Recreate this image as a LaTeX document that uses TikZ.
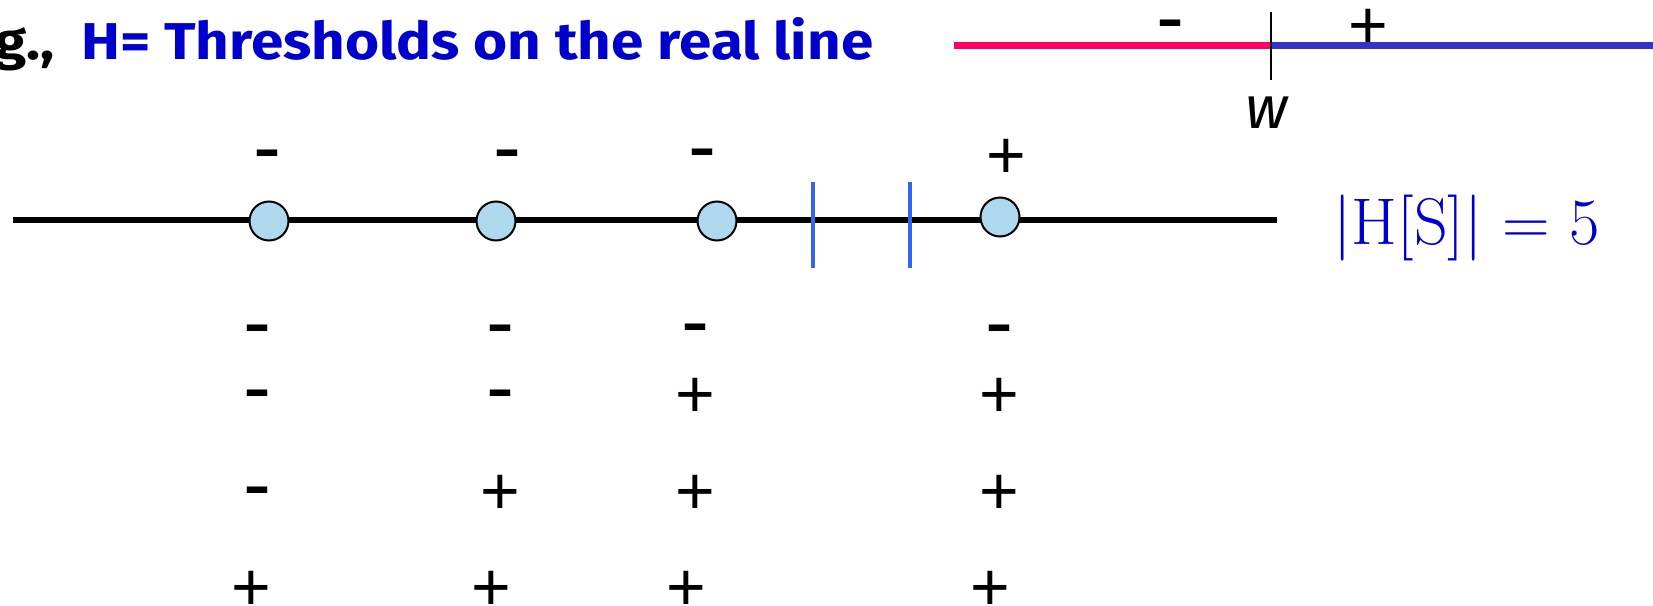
\documentclass[tikz,border=0pt]{standalone}
\usepackage{fontspec}
\usepackage{graphicx}
\newfontfamily\ttlfont{Fira Sans}
\newfontfamily\sgnfont{Liberation Sans}
\newfontfamily\dashfont{DejaVu Sans}
\definecolor{ttlblue}{RGB}{0,0,204}
\definecolor{dotblue}{RGB}{173,216,238}
\definecolor{cutblue}{RGB}{51,102,240}
\definecolor{negpink}{RGB}{255,0,102}
\definecolor{posblue}{RGB}{51,51,204}
\newsavebox\ttlbox
\newsavebox\egbox
\begin{document}
\sbox\ttlbox{\ttlfont\bfseries\color{ttlblue}H= Thresholds on the real line}%
\sbox\egbox{\ttlfont\bfseries\color{black}e.g.,}%
\pgfmathsetmacro\tsx{396/\the\wd\ttlbox}%
\pgfmathsetmacro\tsy{21/\the\ht\ttlbox}%
\begin{tikzpicture}[x=0.5pt,y=-0.5pt,
  dot/.style={circle, draw=black, line width=1pt, fill=dotblue, minimum size=19.5pt, inner sep=0pt},
  psign/.style={font=\sgnfont\fontsize{34}{34}\selectfont, inner sep=0pt, yshift=-2pt},
  msign/.style={font=\dashfont\bfseries\fontsize{26}{26}\selectfont, inner sep=0pt, anchor=base, yshift=-7.3pt},
  axis/.style={line width=3pt, black},
  cut/.style={line width=2pt, cutblue}]
\useasboundingbox (0,0) rectangle (1653,605);
% title
\node[anchor=base west, inner sep=0pt] (title) at (81,59) {\scalebox{\tsx}[\tsy]{\usebox\ttlbox}};
\node[anchor=base east, inner sep=0pt] (eg) at (55,59) {\scalebox{\tsx}[\tsy]{\usebox\egbox}};
% top-right threshold
\coordinate (tl) at (954,45.7);
\coordinate (tw) at (1271,45.7);
\coordinate (tr) at (1653,45.7);
\coordinate (tt) at (1271,12);
\coordinate (tb) at (1271,80);
\draw[line width=3.5pt, negpink] (tl) -- (tw);
\draw[line width=3.5pt, posblue] (tw) -- (tr);
\draw[line width=0.75pt, black] (tt) -- (tb);
\node[inner sep=0pt, font=\ttlfont\itshape\fontsize{30}{30}\selectfont] (w) at (1267,113) {w};
\node[msign] (tm) at (1170,23) {–};
\node[psign] (tp) at (1368,25) {+};
% main line
\coordinate (L0) at (13,220);
\coordinate (L1) at (1277,220);
\draw[axis] (L0) -- (L1);
\coordinate (c1t) at (813,182); \coordinate (c1b) at (813,268);
\coordinate (c2t) at (910,182); \coordinate (c2b) at (910,268);
\draw[cut] (c1t) -- (c1b);
\draw[cut] (c2t) -- (c2b);
\node[dot] (p1) at (269,221) {};
\node[dot] (p2) at (496,221) {};
\node[dot] (p3) at (717,221) {};
\node[dot] (p4) at (1000,217) {};
\node[msign] (s1) at (267,153) {–};
\node[msign] (s2) at (507,153) {–};
\node[msign] (s3) at (702,152) {–};
\node[psign] (s4) at (1006,155) {+};
\node[anchor=base west, inner sep=0pt, text=ttlblue, font=\fontsize{33}{33}\selectfont] (hs) at (1333,244) {|H[S]| = 5};
% rows of labelings
\node[msign] (a1) at (257,328) {–};
\node[msign] (a2) at (500,328) {–};
\node[msign] (a3) at (695,327) {–};
\node[msign] (a4) at (999,328) {–};
\node[msign] (b1) at (257,393) {–};
\node[msign] (b2) at (500,393) {–};
\node[psign] (b3) at (695,394) {+};
\node[psign] (b4) at (999,394) {+};
\node[msign] (d1) at (257,490) {–};
\node[psign] (d2) at (500,491) {+};
\node[psign] (d3) at (695,491) {+};
\node[psign] (d4) at (999,491) {+};
\node[psign] (e1) at (251,587) {+};
\node[psign] (e2) at (491,587) {+};
\node[psign] (e3) at (686,587) {+};
\node[psign] (e4) at (990,587) {+};
\end{tikzpicture}
\end{document}
